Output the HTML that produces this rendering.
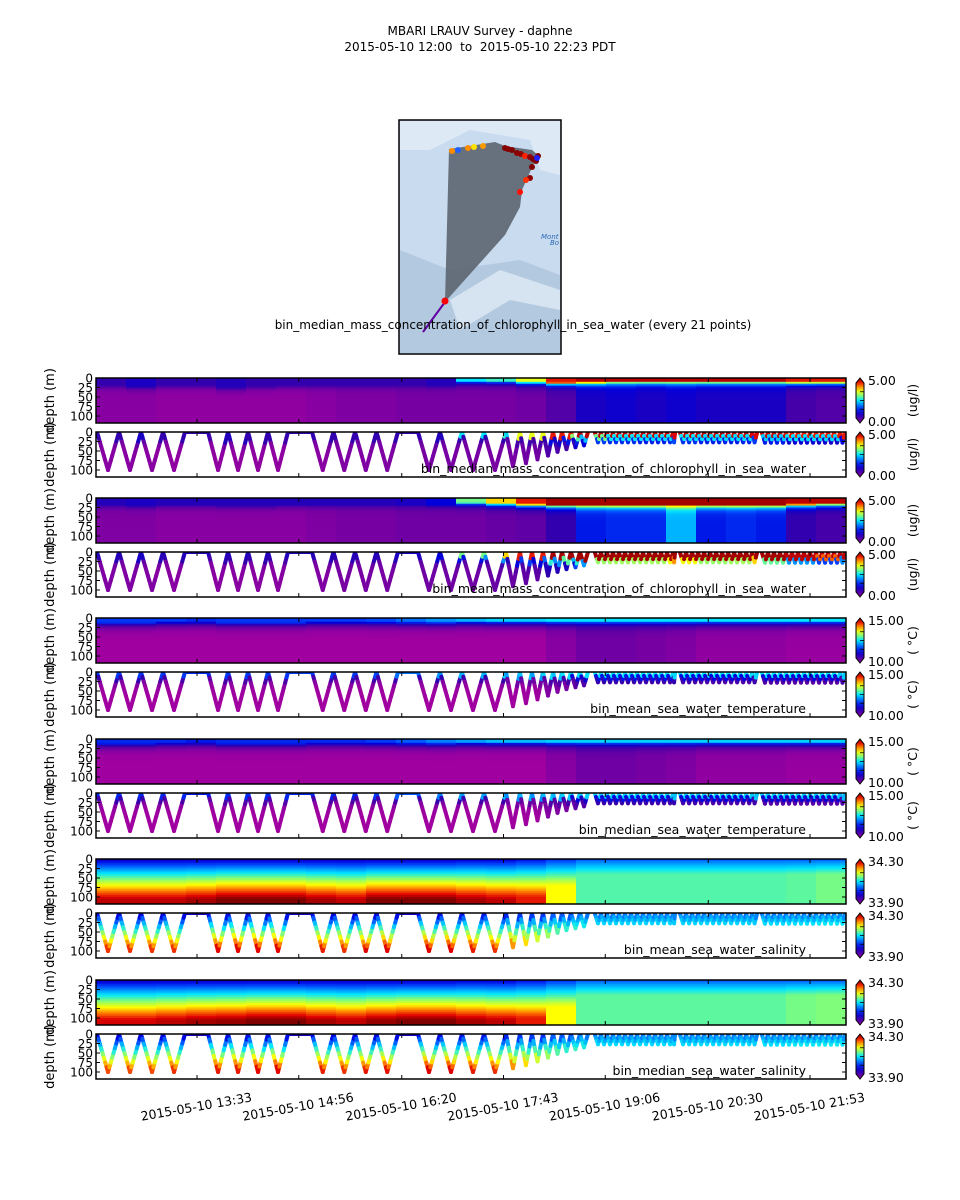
<!DOCTYPE html>
<html><head><meta charset="utf-8"><style>
html,body{margin:0;padding:0;background:#fff;}
svg{display:block;font-family:"DejaVu Sans","Liberation Sans",sans-serif;}
</style></head><body>
<svg id="fig" width="960" height="1200" viewBox="0 0 960 1200" xmlns="http://www.w3.org/2000/svg">
<text x="480" y="35" font-size="12" text-anchor="middle">MBARI LRAUV Survey - daphne</text>
<text x="480" y="51" font-size="12" text-anchor="middle" xml:space="preserve">2015-05-10 12:00  to  2015-05-10 22:23 PDT</text>
<g>
<rect x="399" y="120" width="162" height="234" fill="#c9dbee" stroke="#000" stroke-width="1.5"/>
<path d="M400,121 L560,121 L560,175 L540,170 L530,140 L470,130 L430,150 L400,150Z" fill="#dde9f5"/>
<path d="M400,250 L450,270 L520,260 L560,275 L560,353 L400,353Z" fill="#b3c9e0"/>
<path d="M450,300 L500,270 L560,290 L560,310 L510,300 L460,330Z" fill="#d6e3f1"/>
<polygon points="449,149 470,146 495,142 505,146 532,150 538,155 530,172 522,190 520,207 505,235 445,302" fill="#5c6470" opacity="0.9"/>
<line x1="445" y1="302" x2="423" y2="332" stroke="#6000a0" stroke-width="2"/>
<text x="541" y="239" font-size="7" fill="#2a6ab8" font-style="italic">Mont</text>
<text x="550" y="245" font-size="7" fill="#2a6ab8" font-style="italic">Bo</text>
<g id="mapdots"></g>
</g>
<text x="513" y="329" font-size="12" text-anchor="middle">bin_median_mass_concentration_of_chlorophyll_in_sea_water (every 21 points)</text>
<g id="panels"></g>
<g id="xaxis"></g>
</svg>
<script>
const NS="http://www.w3.org/2000/svg";
const svg=document.getElementById('fig');
// ---- data ----
const xTickLabels=["2015-05-10 13:33","2015-05-10 14:56","2015-05-10 16:20","2015-05-10 17:43","2015-05-10 19:06","2015-05-10 20:30","2015-05-10 21:53"];
const xTickMinutes=[93,176,260,343,426,510,593];
const depthTicks=[0,25,50,75,100];
const diveStart=[11.4,29.4,47.3,65.3, 102,118.3,134.6,150.9, 186.8,204.3,221.9,239.4, 273.2,291.2,309.1,327.1,345.0,356.4,366.2,375.2,383.4,390.7,398.0,405.4];
const diveEnd=[29.4,47.3,65.3,83.2, 118.3,134.6,150.9,167.2, 204.3,221.9,239.4,256.9, 291.2,309.1,327.1,345.0,356.4,366.2,375.2,383.4,390.7,398.0,405.4,411.9];
const diveDepth=[100,100,100,100, 100,100,100,100, 100,100,100,100, 100,100,100,100,90,82,72,62,52,45,40,35];
const surfStart=[83.2,167.2,256.9];
const surfEnd=[102,186.8,273.2];
const shallowStart=[417.6,487.0,553.8];
const shallowEnd=[482.9,549.8,621.5];
const shallowPeriod=[4.9,4.9,4.9];
const shallowDepth=[27,27,28];
const chlMedSurf=[0.15,0.2,0.15,0.15,0.18,0.15,0.15,0.15,0.15,0.15,0.15,0.18,0.5,0.55,0.7,0.9,0.95,0.95,0.95,0.95,0.95,0.95,0.95,0.9,0.9];
const chlMedMld=[20,22,20,20,25,22,20,20,20,20,20,20,8,8,10,12,10,8,8,8,8,8,8,10,10];
const chlMedDeep=[0.03,0.03,0.02,0.02,0.02,0.02,0.02,0.03,0.04,0.04,0.05,0.05,0.05,0.05,0.06,0.1,0.2,0.22,0.2,0.22,0.2,0.2,0.2,0.12,0.1];
const chlMeanSurf=[0.18,0.2,0.18,0.18,0.18,0.18,0.18,0.18,0.18,0.18,0.2,0.25,0.6,0.75,0.9,0.97,0.97,0.97,0.97,0.97,0.97,0.97,0.97,0.95,0.95];
const chlMeanMld=[18,20,18,18,20,20,18,18,18,18,18,18,12,14,16,18,18,18,18,18,18,18,18,16,14];
const chlMeanDeep=[0.04,0.04,0.03,0.03,0.03,0.03,0.03,0.04,0.05,0.05,0.06,0.06,0.06,0.07,0.08,0.15,0.28,0.3,0.3,0.45,0.28,0.3,0.28,0.15,0.12];
const tempMeanSurf=[0.32,0.32,0.32,0.3,0.32,0.32,0.32,0.32,0.32,0.34,0.38,0.42,0.45,0.48,0.48,0.5,0.5,0.5,0.5,0.5,0.5,0.5,0.5,0.5,0.5];
const tempMeanMld=[12,12,10,10,12,12,12,10,10,10,10,10,8,8,8,8,8,8,8,8,8,8,8,8,8];
const tempMeanDeep=[0,0,0,0,0,0,0,0,0,0,0,0,0,0,0,0.03,0.06,0.06,0.05,0.04,0.02,0.02,0.02,0.01,0.01];
const tempMedSurf=[0.3,0.3,0.3,0.28,0.3,0.3,0.3,0.3,0.3,0.32,0.36,0.4,0.43,0.46,0.46,0.48,0.48,0.48,0.48,0.48,0.48,0.48,0.48,0.48,0.48];
const salMeanSurf=[0.2,0.2,0.2,0.2,0.2,0.2,0.2,0.2,0.2,0.2,0.2,0.2,0.22,0.22,0.25,0.3,0.35,0.35,0.35,0.35,0.35,0.35,0.35,0.35,0.35];
const salMeanDeep=[0.95,0.95,0.95,0.97,1,1,1,0.97,0.95,1,1,1,0.97,0.95,0.9,0.72,0.57,0.57,0.57,0.57,0.57,0.57,0.57,0.58,0.6];
const salMeanDz=[105,105,105,105,105,105,105,105,105,105,105,105,105,105,100,70,40,40,40,40,40,40,40,40,40];
const salMedDeep=[0.93,0.93,0.95,0.97,0.98,1,1,0.97,0.95,0.98,1,1,0.97,0.95,0.9,0.72,0.58,0.58,0.58,0.58,0.58,0.58,0.58,0.6,0.61];
// ---- scales ----
const X0=96,X1=846,T0=10.6,PXM=1.226;
const xs=m=>X0+(m-T0)*PXM;
const PH=45, DMAX=118.4;
const ys=(top,d)=>top+d*PH/DMAX;
const stops=[[0,[160,0,160]],[0.08,[95,0,165]],[0.16,[45,0,175]],[0.25,[0,0,220]],[0.35,[0,80,255]],[0.5,[0,230,255]],[0.62,[140,255,110]],[0.72,[255,255,0]],[0.82,[255,120,0]],[0.92,[225,0,0]],[1,[128,0,0]]];
function cmap(v){v=Math.max(0,Math.min(1,v));for(let i=1;i<stops.length;i++){if(v<=stops[i][0]){const a=stops[i-1],b=stops[i],f=(v-a[0])/(b[0]-a[0]);return 'rgb('+a[1].map((c,k)=>Math.round(c+(b[1][k]-c)*f)).join(',')+')';}}return 'rgb(128,0,0)';}
function colIdx(m){return Math.max(0,Math.min(24,Math.floor((xs(m)-X0)/30)));}
function stepField(surf,mld,deep,sc){return (i,d)=> d<mld[i]?surf[i]:deep[i]+(surf[i]-deep[i])*Math.exp(-(d-mld[i])/sc);}
function linField(surf,deep,dz){return (i,d)=> surf[i]+(deep[i]-surf[i])*Math.pow(Math.min(1,d/dz[i]),0.9);}
const fields={
 chlMed:stepField(chlMedSurf,chlMedMld,chlMedDeep,7),
 chlMean:stepField(chlMeanSurf,chlMeanMld,chlMeanDeep,7),
 tempMean:stepField(tempMeanSurf,tempMeanMld,tempMeanDeep,9),
 tempMed:stepField(tempMedSurf,tempMeanMld,tempMeanDeep,9),
 salMean:linField(salMeanSurf,salMeanDeep,salMeanDz),
 salMed:linField(salMeanSurf,salMedDeep,salMeanDz)
};
const panelTops=[378,432,498,552,618,672,739,793,859,913,980,1034];
const panelField=['chlMed','chlMed','chlMean','chlMean','tempMean','tempMean','tempMed','tempMed','salMean','salMean','salMed','salMed'];
const captions=["bin_median_mass_concentration_of_chlorophyll_in_sea_water","bin_mean_mass_concentration_of_chlorophyll_in_sea_water","bin_mean_sea_water_temperature","bin_median_sea_water_temperature","bin_mean_sea_water_salinity","bin_median_sea_water_salinity"];
const cbTop=["5.00","5.00","15.00","15.00","34.30","34.30"];
const cbBot=["0.00","0.00","10.00","10.00","33.90","33.90"];
const cbUnit=["(ug/l)","(ug/l)","( °C)","( °C)","",""];
function el(tag,attrs,parent){const e=document.createElementNS(NS,tag);for(const k in attrs)e.setAttribute(k,attrs[k]);parent.appendChild(e);return e;}
const panelsG=document.getElementById('panels');
const defs=el('defs',{},svg);
panelTops.forEach((top,p)=>{
 const g=el('g',{},panelsG);
 
 
 const cp=el('clipPath',{id:'cp'+p},defs);el('rect',{x:X0,y:top,width:X1-X0,height:PH},cp);
 const body=el('g',{'clip-path':'url(#cp'+p+')'},g);
 const F=fields[panelField[p]];
 if(p%2===0){
  for(let i=0;i<25;i++)for(let r=0;r<24;r++){
   const c=el('rect',{x:X0+30*i,y:ys(top,r*5),width:30.5,height:PH*5/DMAX+0.5,fill:cmap(F(i,r*5+2.5))},body);
   
   
  }
 } else {
  const seg=(m1,d1,m2,d2)=>{const n=Math.max(2,Math.ceil(Math.abs(xs(m2)-xs(m1))/1.5));for(let k=0;k<n;k++){const f1=k/n,f2=(k+1)/n;const ma=m1+(m2-m1)*f1,mb=m1+(m2-m1)*f2,da=d1+(d2-d1)*f1,db=d1+(d2-d1)*f2;
   const l=el('line',{x1:xs(ma),y1:ys(top,da),x2:xs(mb),y2:ys(top,db),stroke:cmap(F(colIdx((ma+mb)/2),(da+db)/2)),'stroke-width':4,'stroke-linecap':'round'},body);
   
   }};
  for(let j=0;j<surfStart.length;j++)seg(surfStart[j],0,surfEnd[j],0);
  for(let j=0;j<diveStart.length;j++){const mid=(diveStart[j]+diveEnd[j])/2;seg(diveStart[j],0,mid,diveDepth[j]);seg(mid,diveDepth[j],diveEnd[j],0);}
  for(let j=0;j<shallowStart.length;j++){for(let m=shallowStart[j];m<shallowEnd[j]-0.1;m+=shallowPeriod[j]){const e=Math.min(m+shallowPeriod[j],shallowEnd[j]);const mid=(m+e)/2;seg(m,2,mid,shallowDepth[j]);seg(mid,shallowDepth[j],e,2);}}
  const cap=el('text',{x:806,y:top+PH-4,'font-size':12.5,'text-anchor':'end'},g);cap.textContent=captions[(p-1)/2];
  
  
 }
 const fr=el('rect',{x:X0,y:top,width:X1-X0,height:PH,fill:'none',stroke:'#000','stroke-width':1.5},g);
 
 
 depthTicks.forEach(d=>{const y=ys(top,d);
  el('line',{x1:X0,y1:y,x2:X0+4,y2:y,stroke:'#000'},g);el('line',{x1:X1,y1:y,x2:X1-4,y2:y,stroke:'#000'},g);
  const t=el('text',{x:X0-3,y:y+4.5,'font-size':12,'text-anchor':'end'},g);t.textContent=d;
  
  });
 const yl=el('text',{transform:'translate(54,'+(top+PH/2)+') rotate(-90)','font-size':13,'text-anchor':'middle'},g);yl.textContent='depth (m)';
 
 
 const q=Math.floor(p/2);
 const gr=el('linearGradient',{id:'cb'+p,x1:0,y1:1,x2:0,y2:0},defs);
 for(let s=0;s<=10;s++)el('stop',{offset:s/10,'stop-color':cmap(s/10)},gr);
 const cb=el('path',{d:`M856,${top+5} L860,${top} L864,${top+5} L864,${top+PH-5} L860,${top+PH} L856,${top+PH-5}Z`,fill:'url(#cb'+p+')',stroke:'#000','stroke-width':1},g);
 
 
 [0.25,0.5,0.75].forEach(f=>el('line',{x1:860,x2:864,y1:top+5+f*(PH-10),y2:top+5+f*(PH-10),stroke:'#000','stroke-width':0.8},g));
 const tt=el('text',{x:868,y:top+7,'font-size':12.5},g);tt.textContent=cbTop[q];
 
 
 const tb=el('text',{x:868,y:top+PH+3,'font-size':12.5},g);tb.textContent=cbBot[q];
 
 
 if(cbUnit[q]){const u=el('text',{transform:'translate(917,'+(top+PH/2)+') rotate(-90)','font-size':12.5,'text-anchor':'middle'},g);u.textContent=cbUnit[q];
  
  }
});
const xa=document.getElementById('xaxis');
xTickMinutes.forEach((m,i)=>{const x=xs(m);
 panelTops.forEach(top=>{el('line',{x1:x,y1:top+PH,x2:x,y2:top+PH-4,stroke:'#000'},xa);el('line',{x1:x,y1:top,x2:x,y2:top+4,stroke:'#000'},xa);});
 const t=el('text',{transform:'translate('+x+',1111) rotate(-10)','font-size':12.5,'text-anchor':'middle'},xa);t.textContent=xTickLabels[i];
 
 });
const dotX=[452,458,468,474,483,505,508,512,517,521,525,530,533,536,538,537,532,530,526,520,445];
const dotY=[151,150,148,147,146,148,149,150,153,154,156,157,159,161,156,158,167,178,180,192,301];
const dotC=['#ff8c00','#2060ff','#ff8c00','#ffe000','#ff9a00','#800000','#8b0000','#800000','#8b0000','#900000','#ff2000','#900000','#800000','#800000','#800000','#2020ff','#800000','#900000','#ff3000','#ff1000','#ff0000'];
const md=document.getElementById('mapdots');
dotX.forEach((x,i)=>{const c=el('circle',{cx:x,cy:dotY[i],r:i==20?3.5:3,fill:dotC[i]},md);
 
 });
</script>
</body></html>
